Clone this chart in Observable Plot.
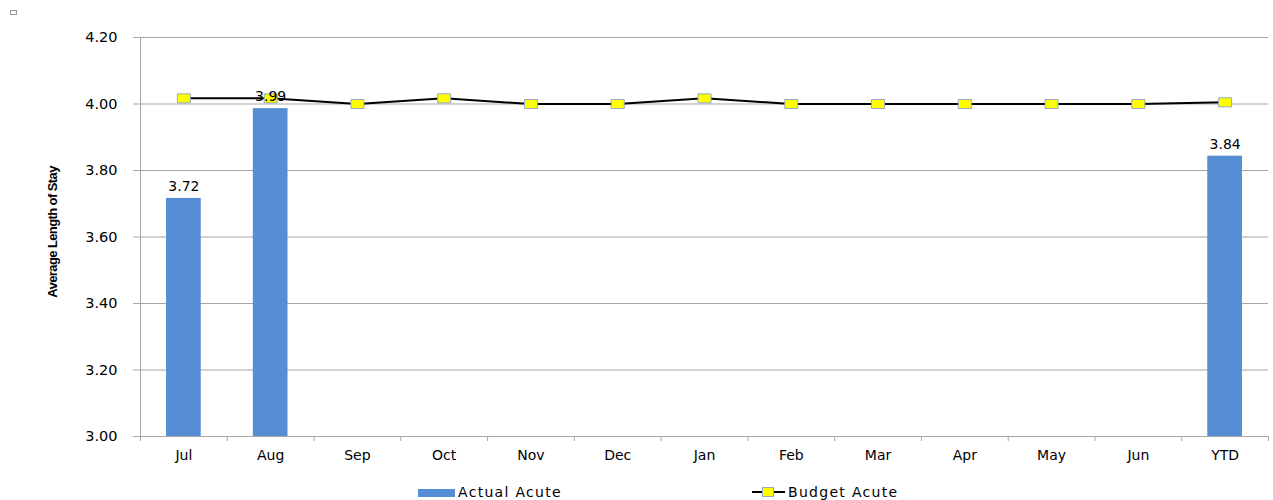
<!DOCTYPE html>
<html>
<head>
<meta charset="utf-8">
<script src="https://cdn.jsdelivr.net/npm/d3@7"></script>
<script src="https://cdn.jsdelivr.net/npm/@observablehq/plot@0.6"></script>
<style>
  body { margin: 0; background: #fff; }
  #wrap { position: relative; width: 1273px; height: 500px; overflow: hidden; font-family: "DejaVu Sans", sans-serif; }
  #ylab { position: absolute; left: 52px; top: 232px; transform: translate(-50%, -50%) rotate(-90deg); white-space: nowrap;
          font-family: "Liberation Sans Narrow", "Liberation Sans", sans-serif; font-weight: bold; font-size: 13px; letter-spacing: -0.6px; color: #000; }
  #corner { position: absolute; left: 10px; top: 10px; width: 5px; height: 3px; border: 1px solid #999; }
  .leg { position: absolute; top: 484px; font-size: 14px; letter-spacing: 1.3px; color: #000; white-space: nowrap; }
</style>
</head>
<body>
<div id="wrap">
  <div id="chart"></div>
  <div id="corner"></div>
  <div id="ylab">Average Length of Stay</div>
  <div id="legend"></div>
</div>
<script>
const categories = ["Jul","Aug","Sep","Oct","Nov","Dec","Jan","Feb","Mar","Apr","May","Jun","YTD"];
const actualAcute = [3.716, 3.986, null, null, null, null, null, null, null, null, null, null, 3.843];
const budgetAcute = [4.017, 4.017, 4.00, 4.017, 4.00, 4.00, 4.017, 4.00, 4.00, 4.00, 4.00, 4.00, 4.005];
const yTicks = [3.0, 3.2, 3.4, 3.6, 3.8, 4.0, 4.2];
const seriesNames = ["Actual Acute", "Budget Acute"];

const W = 1273, H = 478, mL = 140, mR = 5, mT = 37, mB = 42;
const step = (W - mL - mR) / categories.length;

const rows = categories.map((c, i) => ({cat: c, actual: actualAcute[i], budget: budgetAcute[i]}));
const withActual = rows.filter(d => d.actual != null);
const noActual = rows.filter(d => d.actual == null);

const markerSymbol = {
  draw(ctx) { ctx.moveTo(-6.5, -4.5); ctx.lineTo(6.5, -4.5); ctx.lineTo(6.5, 4.5); ctx.lineTo(-6.5, 4.5); ctx.closePath(); }
};

const fmt = d3.format(".2f");
const chart = Plot.plot({
  width: W, height: H,
  marginLeft: mL, marginRight: mR, marginTop: mT, marginBottom: mB,
  style: {fontFamily: "DejaVu Sans, sans-serif", background: "#fff", overflow: "visible"},
  x: {type: "band", domain: categories, paddingInner: 0, paddingOuter: 0, round: false},
  y: {domain: [3.0, 4.2]},
  marks: [
    Plot.gridY(yTicks, {stroke: "#a6a6a6", strokeOpacity: 1}),
    Plot.barY(withActual, {x: "cat", y1: 3.0, y2: "actual", fill: "#558ed5", insetLeft: step * 0.3, insetRight: step * 0.3}),
    Plot.barY(noActual, {x: "cat", y1: 3.0, y2: 3.0, stroke: "#558ed5", strokeOpacity: 0.6, insetLeft: step * 0.3, insetRight: step * 0.3}),
    Plot.ruleY([3.0], {stroke: "#a6a6a6"}),
    Plot.ruleX([categories[0]], {y1: 3.0, y2: 4.2, dx: -step / 2, stroke: "#a6a6a6"}),
    Plot.ruleX(categories, {y1: 3.0, y2: 3.0, insetBottom: -5, dx: -step / 2, stroke: "#a6a6a6"}),
    Plot.ruleX([categories[categories.length - 1]], {y1: 3.0, y2: 3.0, insetBottom: -5, dx: step / 2, stroke: "#a6a6a6"}),
    Plot.axisY(yTicks, {tickFormat: fmt, tickSize: 7, tickPadding: 16, stroke: "#a6a6a6", fontSize: 14.5, label: null, style: "letter-spacing:2px"}),
    Plot.axisX({tickSize: 0, tickPadding: 14, fontSize: 14, label: null, style: "letter-spacing:2px"}),
    Plot.line(rows, {x: "cat", y: "budget", stroke: "#000", strokeWidth: 2}),
    Plot.dot(rows, {x: "cat", y: "budget", symbol: markerSymbol, fill: "#ffff00", stroke: "#93a9c6", strokeWidth: 1, r: 5}),
    Plot.text(withActual, {x: "cat", y: "actual", text: d => fmt(d.actual), dy: -12, fontSize: 14, fill: "#000", style: "letter-spacing:1.3px"})
  ]
});
document.getElementById("chart").appendChild(chart);

const legend = document.getElementById("legend");
legend.innerHTML = `
  <div style="position:absolute;left:418px;top:489px;width:37px;height:8px;background:#558ed5"></div>
  <div class="leg" style="left:458px">${seriesNames[0]}</div>
  <div style="position:absolute;left:752px;top:491px;width:33px;height:2px;background:#000"></div>
  <div style="position:absolute;left:762px;top:487px;width:10px;height:8px;background:#ffff00;border:1px solid #93a9c6"></div>
  <div class="leg" style="left:788px">${seriesNames[1]}</div>`;
</script>
</body>
</html>
